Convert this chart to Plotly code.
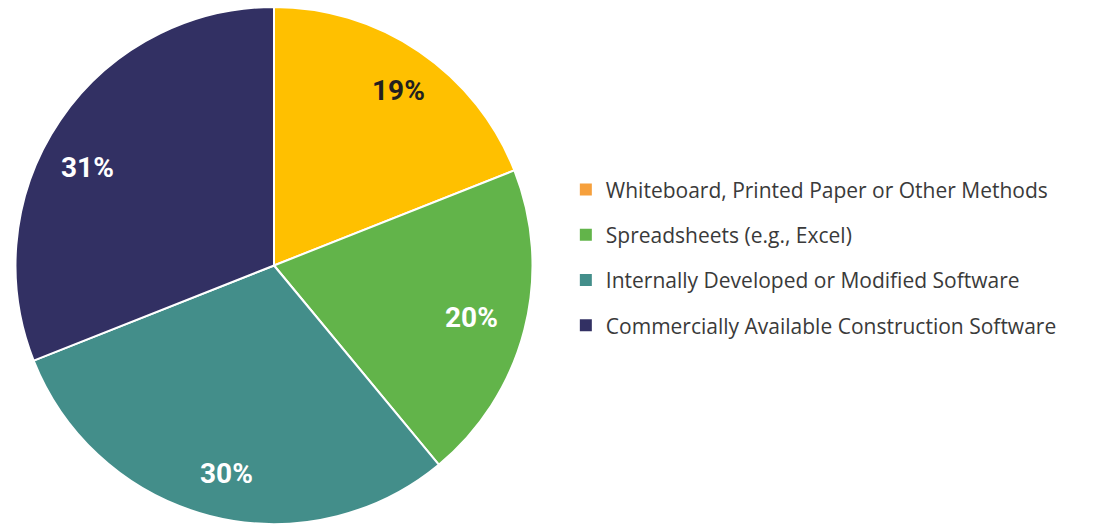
import math
import plotly.graph_objects as go

# Survey shares, in drawing order (clockwise from 12 o'clock)
methods = [
    "Whiteboard, Printed Paper or Other Methods",
    "Spreadsheets (e.g., Excel)",
    "Internally Developed or Modified Software",
    "Commercially Available Construction Software",
]
shares = [19, 20, 30, 31]
slice_colors = ["#FFC000", "#62B44A", "#438E8A", "#323063"]
legend_colors = ["#F6A03C", "#62B44A", "#438E8A", "#323063"]
label_colors = ["#231F20", "#FFFFFF", "#FFFFFF", "#FFFFFF"]
# small pixel nudges (dx, dy) for each percentage label
label_nudges = [(7, -2), (-6, -1), (5, 4), (-13, 19)]

W, H = 1103, 524
CX, CY, R = 274, 266, 259  # pie centre / radius in px

fig = go.Figure()
fig.add_trace(go.Pie(
    labels=methods,
    values=shares,
    sort=False,
    direction="clockwise",
    rotation=0,
    marker=dict(colors=slice_colors, line=dict(color="#FFFFFF", width=2)),
    textinfo="none",
    hoverinfo="label+percent",
    showlegend=False,
    domain=dict(x=[(CX - R) / W, (CX + R) / W], y=[max(0, 1 - (CY + R) / H), 1 - (CY - R) / H]),
))

# Percentage labels placed along each slice's bisector
total = sum(shares)
cum = 0
for v, col, (dx, dy) in zip(shares, label_colors, label_nudges):
    theta = 2 * math.pi * (cum + v / 2) / total
    cum += v
    px = CX + 0.81 * R * math.sin(theta) + dx
    py = CY - 0.81 * R * math.cos(theta) + dy
    fig.add_annotation(
        x=px / W, y=1 - py / H, xref="paper", yref="paper",
        text=f"<b>{round(100 * v / total)}%</b>", showarrow=False,
        font=dict(family="Roboto", size=28, color=col),
        xanchor="center", yanchor="middle",
    )

# Legend entries
for name, col in zip(methods, legend_colors):
    fig.add_trace(go.Scatter(
        x=[None], y=[None], mode="markers", name=name, legendgroup=name,
        marker=dict(symbol="square", size=11, color=col),
        hoverinfo="skip",
    ))

fig.update_layout(
    width=W, height=H,
    margin=dict(l=0, r=0, t=0, b=0),
    paper_bgcolor="#FFFFFF",
    plot_bgcolor="#FFFFFF",
    xaxis=dict(visible=False),
    yaxis=dict(visible=False),
    font=dict(family="Open Sans", size=21, color="#3A3A3A"),
    legend=dict(
        x=0.513, y=0.508, xanchor="left", yanchor="middle",
        traceorder="grouped", tracegroupgap=15,
        itemsizing="constant",
        bgcolor="rgba(0,0,0,0)",
    ),
)

fig.write_html("out.html")
